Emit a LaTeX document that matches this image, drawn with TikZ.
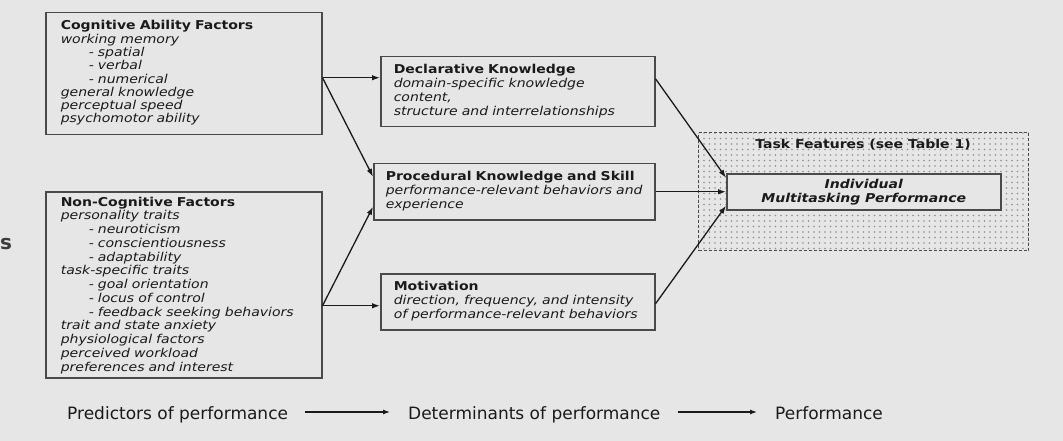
\documentclass[tikz,border=0pt]{standalone}
\usepackage{fontspec}
\usetikzlibrary{arrows.meta,patterns.meta}
\newfontfamily\boxfont[FakeStretch=1.15]{DejaVu Sans}
\newfontfamily\labfont{DejaVu Sans}
\definecolor{bg}{HTML}{E6E6E6}
\definecolor{edge}{HTML}{4A4A4A}
\definecolor{ink}{HTML}{1A1A1A}
\definecolor{dotc}{HTML}{8E8E8E}
\begin{document}
\begin{tikzpicture}[x=1pt,y=-1pt,
  box/.style={draw=edge,line width=1.5pt,fill=bg,anchor=north west,inner ysep=0pt,text=ink,align=left},
  arr/.style={draw=ink,line width=1.3pt,-{Latex[length=8pt,width=5.5pt]}},
  arrb/.style={draw=ink,line width=1.1pt,-{Latex[length=7pt,width=5pt]},shorten <=17pt,shorten >=18pt},
  lab/.style={font=\labfont\fontsize{17}{19}\selectfont,text=ink,inner sep=0pt,anchor=base west},
]
\fill[bg] (0,0) rectangle (1063,441);
\useasboundingbox (0,0) rectangle (1063,441);

\node[font=\labfont\fontsize{20}{22}\selectfont\bfseries,text=ink!85,inner sep=0pt] (s) at (6,244) {s};

\node[box,minimum width=276pt,minimum height=122pt,text width=246pt,inner xsep=15pt,
      font=\boxfont\fontsize{12.2}{13.3}\selectfont] (cog) at (45,12)
{\begin{tabular}{@{}l@{}}
\textbf{Cognitive Ability Factors}\\
\textit{working memory}\\
\hspace*{28pt}\textit{- spatial}\\
\hspace*{28pt}\textit{- verbal}\\
\hspace*{28pt}\textit{- numerical}\\
\textit{general knowledge}\\
\textit{perceptual speed}\\
\textit{psychomotor ability}
\end{tabular}};

\node[box,minimum width=276pt,minimum height=186pt,text width=246pt,inner xsep=15pt,
      font=\boxfont\fontsize{12.2}{13.75}\selectfont] (noncog) at (45,191)
{\begin{tabular}{@{}l@{}}
\rule{0pt}{12pt}\textbf{Non-Cognitive Factors}\\
\textit{personality traits}\\
\hspace*{28pt}\textit{- neuroticism}\\
\hspace*{28pt}\textit{- conscientiousness}\\
\hspace*{28pt}\textit{- adaptability}\\
\textit{task-specific traits}\\
\hspace*{28pt}\textit{- goal orientation}\\
\hspace*{28pt}\textit{- locus of control}\\
\hspace*{28pt}\textit{- feedback seeking behaviors}\\
\textit{trait and state anxiety}\\
\textit{physiological factors}\\
\textit{perceived workload}\\
\textit{preferences and interest}
\end{tabular}};

\node[box,minimum width=274pt,minimum height=70pt,text width=248pt,inner xsep=13pt,
      font=\boxfont\fontsize{12.2}{14}\selectfont] (decl) at (380,56)
{\begin{tabular}{@{}l@{}}
\textbf{Declarative Knowledge}\\
\textit{domain-specific knowledge}\\
\textit{content,}\\
\textit{structure and interrelationships}
\end{tabular}};

\node[box,minimum width=281pt,minimum height=56pt,text width=257pt,inner xsep=12pt,
      font=\boxfont\fontsize{12.2}{14}\selectfont] (proc) at (373,163)
{\begin{tabular}{@{}l@{}}
\textbf{Procedural Knowledge and Skill}\\
\textit{performance-relevant behaviors and}\\
\textit{experience}
\end{tabular}};

\node[box,minimum width=274pt,minimum height=56pt,text width=248pt,inner xsep=13pt,
      font=\boxfont\fontsize{12.2}{14}\selectfont] (motiv) at (380,273)
{\begin{tabular}{@{}l@{}}
\textbf{Motivation}\\
\textit{direction, frequency, and intensity}\\
\textit{of performance-relevant behaviors}
\end{tabular}};

\node[draw=edge,line width=1.1pt,dash pattern=on 3pt off 2pt,
      preaction={fill=bg},pattern={Dots[distance=5.5pt,radius=0.8pt]},pattern color=dotc,
      minimum width=330pt,minimum height=118pt,anchor=north west,inner sep=0pt] (taskf) at (698,132) {};
\node[font=\boxfont\fontsize{12.2}{14}\selectfont\bfseries,text=ink,inner sep=0pt] (tft) at (863,145) {Task Features (see Table 1)};

\node[box,align=center,minimum width=274pt,minimum height=36pt,
      font=\boxfont\fontsize{12.2}{14}\selectfont\bfseries\itshape] (ind) at (726,173)
{Individual\\Multitasking Performance};

\draw[arr] ([yshift=-4pt]cog.east) -- ([yshift=14pt]decl.west);
\draw[arr] ([yshift=-4pt]cog.east) -- ([yshift=15pt]proc.west);
\draw[arr] ([yshift=-21pt]noncog.east) -- ([yshift=-4pt]motiv.west);
\draw[arr] ([yshift=-21pt]noncog.east) -- ([yshift=-15pt]proc.west);
\draw[arr] ([yshift=13pt]decl.east) -- ([yshift=14pt]ind.west);
\draw[arr] (proc.east) -- (ind.west);
\draw[arr] ([yshift=-2pt]motiv.east) -- ([yshift=-14pt]ind.west);

\node[lab] (pred) at (67,419) {Predictors of performance};
\node[lab] (det) at (408,419) {Determinants of performance};
\node[lab] (perf) at (775,419) {Performance};
\draw[arrb] ([yshift=7pt]pred.base east) -- ([yshift=7pt]det.base west);
\draw[arrb] ([yshift=7pt]det.base east) -- ([yshift=7pt]perf.base west);
\end{tikzpicture}
\end{document}
